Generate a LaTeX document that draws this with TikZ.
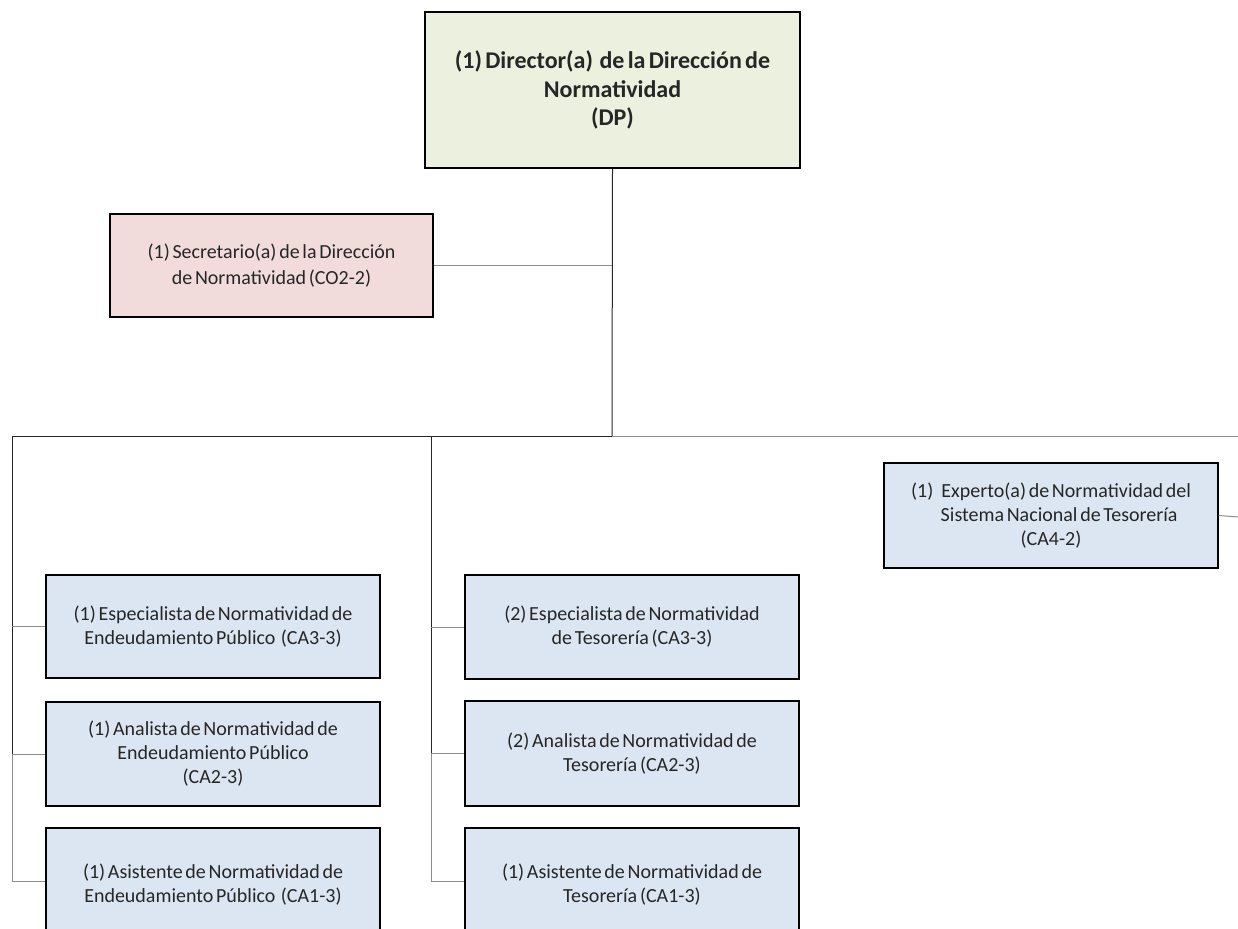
\documentclass[tikz,border=0pt]{standalone}
\usepackage{fontspec}
\setmainfont{Carlito}[WordSpace=0.6]
\definecolor{dirfill}{HTML}{EBF1DE}
\definecolor{secfill}{HTML}{F2DCDB}
\definecolor{bluefill}{HTML}{DCE6F2}
\definecolor{txt}{HTML}{262626}
\definecolor{lgray}{HTML}{8C8C8C}
\begin{document}
\begin{tikzpicture}[x=1pt,y=-1pt,
  box/.style={draw=black, line width=1.4pt, inner sep=0pt, align=center, text=txt},
  bluebox/.style={box, fill=bluefill, minimum width=334pt, font=\fontsize{20}{24}\selectfont},
  dark/.style={draw=black!85, line width=1pt},
  light/.style={draw=lgray, line width=1pt}]
\useasboundingbox (0,0) rectangle (1238,928);
% boxes
\node[box, fill=dirfill, minimum width=375pt, minimum height=156pt,
  font=\bfseries\fontsize{24}{28.5}\selectfont] (dir) at (612.5,90)
  {(1) Director(a)\ \ de la Dirección de\\Normatividad\\(DP)};
\node[box, fill=secfill, minimum width=323pt, minimum height=103pt,
  font=\fontsize{20}{26}\selectfont] (sec) at (271.5,265.5)
  {(1) Secretario(a) de la Dirección\\de Normatividad (CO2-2)};
\node[bluebox, minimum height=105pt] (exp) at (1051,515.5)
  {(1)\ \ \ Experto(a) de Normatividad del\\\ \ \ \ \ \ Sistema Nacional de Tesorería\\(CA4-2)};
\node[bluebox, minimum height=103pt] (l1) at (213,626.5)
  {(1) Especialista de Normatividad\ de\\Endeudamiento Público\ \ (CA3-3)};
\node[bluebox, minimum height=104pt] (l2) at (213,754)
  {(1) Analista de Normatividad de\\Endeudamiento Público\\(CA2-3)};
\node[bluebox, minimum height=114pt] (l3) at (213,885)
  {(1) Asistente de Normatividad\ de\\Endeudamiento Público\ \ (CA1-3)};
\node[bluebox, minimum height=104pt] (m1) at (632,627)
  {(2)\ Especialista de Normatividad\\de Tesorería (CA3-3)};
\node[bluebox, minimum height=105pt] (m2) at (632,753.5)
  {(2) Analista de Normatividad de\\Tesorería (CA2-3)};
\node[bluebox, minimum height=114pt] (m3) at (632,885)
  {(1) Asistente de Normatividad\ de\\Tesorería (CA1-3)};
% coordinates
\coordinate (bus) at (612,436);
\coordinate (busL) at (12,436);
\coordinate (busM) at (431,436);
\coordinate (busR) at (1238,436);
\coordinate (expR) at (1238,517);
\coordinate (Lv2) at (12,755);
\coordinate (Mv2) at (431,754);
\coordinate (l3c) at ([yshift=4pt]l3.west);
\coordinate (m3c) at ([yshift=4pt]m3.west);
% connectors
\draw[dark] (dir.south) -- (bus);
\draw[light] (sec.east) -- (sec.east -| bus);
\draw[dark] (bus) -- (busL);
\draw[light] (bus) -- (busR);
\draw[light] (exp.east) -- (expR);
\draw[dark] (busL) -- (Lv2);
\draw[light] (Lv2) -- (busL |- l3c);
\draw[dark] (busM) -- (Mv2);
\draw[light] (Mv2) -- (busM |- m3c);
\draw[light] (l1.west) -- (busL |- l1.west);
\draw[light] (l2.west) -- (busL |- l2.west);
\draw[light] (l3c) -- (busL |- l3c);
\draw[light] (m1.west) -- (busM |- m1.west);
\draw[light] (m2.west) -- (busM |- m2.west);
\draw[light] (m3c) -- (busM |- m3c);
\end{tikzpicture}
\end{document}
